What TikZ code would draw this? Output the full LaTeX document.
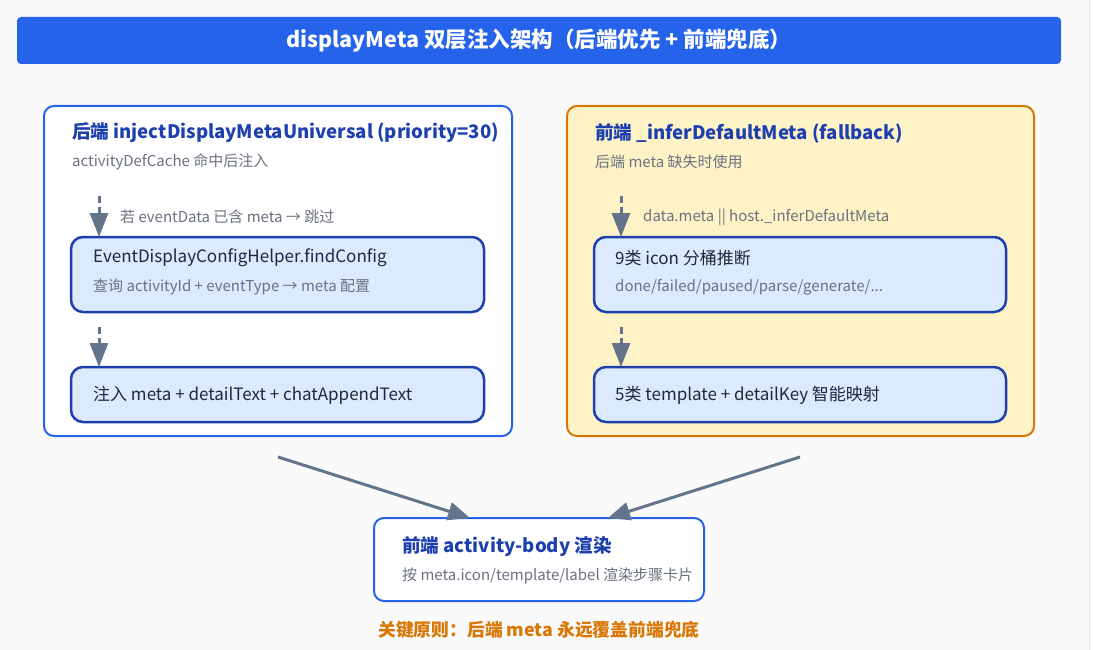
\documentclass[tikz,border=0pt]{standalone}
\usepackage{fontspec}
\setmainfont{Noto Sans CJK SC}
\usetikzlibrary{arrows.meta}
\definecolor{bgc}{HTML}{FAFAFA}
\definecolor{edgec}{HTML}{E5E7EB}
\definecolor{bluec}{HTML}{2563EB}
\definecolor{dblue}{HTML}{1E40AF}
\definecolor{lblue}{HTML}{DBEAFE}
\definecolor{grayt}{HTML}{6B7280}
\definecolor{darkt}{HTML}{1F2937}
\definecolor{arrowc}{HTML}{64748B}
\definecolor{orangec}{HTML}{D97706}
\definecolor{yellowc}{HTML}{FEF3C7}
\tikzset{
  frame/.style={anchor=north west, inner sep=0pt, outer sep=0pt},
  titlebar/.style={frame, fill=bluec, rounded corners=4pt, text=white, font=\bfseries\fontsize{21.5}{25}\selectfont},
  bluepanel/.style={frame, fill=white, draw=bluec, line width=2pt, rounded corners=10pt},
  orangepanel/.style={frame, fill=yellowc, draw=orangec, line width=2pt, rounded corners=10pt},
  stepbox/.style={frame, fill=lblue, draw=dblue, line width=2.5pt, rounded corners=12pt},
  ptitle/.style={anchor=west, inner sep=0pt, text=dblue, font=\bfseries\fontsize{18.6}{22}\selectfont},
  psub/.style={anchor=west, inner sep=0pt, text=grayt, font=\fontsize{15}{18}\selectfont},
  btext/.style={anchor=west, inner sep=0pt, text=darkt, font=\fontsize{17}{20}\selectfont},
  dasharrow/.style={draw=arrowc, line width=3pt, dash pattern=on 7pt off 4pt, -{Triangle[length=24pt,width=18pt]}},
  solidarrow/.style={draw=arrowc, line width=3pt, -{Triangle[length=22pt,width=18pt]}},
  footer/.style={inner sep=0pt, text=orangec, font=\bfseries\fontsize{17.8}{21}\selectfont}
}
\begin{document}
\begin{tikzpicture}[x=1pt,y=-1pt]
\useasboundingbox (0,0) rectangle (1093,650);
\fill[white] (0,0) rectangle (1093,650);
\fill[bgc] (0,0) rectangle (1089,650);
\draw[edgec, line width=1pt] (1089,0) -- (1089,650);

\node[titlebar, minimum width=1044pt, minimum height=47pt] (title) at (17,17) {displayMeta 双层注入架构（后端优先 + 前端兜底）};

% left panel
\node[bluepanel, minimum width=468pt, minimum height=330pt] (lp) at (44,106) {};
\node[ptitle] (lpt) at (72,133) {后端 injectDisplayMetaUniversal (priority=30)};
\node[psub] (lps) at (72,162) {activityDefCache 命中后注入};
\node[stepbox, minimum width=413pt, minimum height=75pt] (b1) at (71,237) {};
\node[btext] (b1t) at (93,258) {EventDisplayConfigHelper.findConfig};
\node[psub] (b1s) at (93,287) {查询 activityId + eventType → meta 配置};
\node[stepbox, minimum width=413pt, minimum height=55pt] (b2) at (71,367) {};
\node[btext] (b2t) at (93,395) {注入 meta + detailText + chatAppendText};
\coordinate (a1) at (99,196);
\coordinate (a2) at (99,327);
\node[psub] (l1) at (120,217) {若 eventData 已含 meta → 跳过};
\draw[dasharrow] (a1) -- (a1 |- b1.north);
\draw[dasharrow] (a2) -- (a2 |- b2.north);

% right panel
\node[orangepanel, minimum width=467pt, minimum height=330pt] (rp) at (567,106) {};
\node[ptitle] (rpt) at (595,133) {前端 \_inferDefaultMeta (fallback)};
\node[psub] (rps) at (595,162) {后端 meta 缺失时使用};
\node[stepbox, minimum width=412pt, minimum height=75pt] (b3) at (594,237) {};
\node[btext] (b3t) at (615,258) {9类 icon 分桶推断};
\node[psub] (b3s) at (615,287) {done/failed/paused/parse/generate/...};
\node[stepbox, minimum width=412pt, minimum height=55pt] (b4) at (594,367) {};
\node[btext] (b4t) at (615,395) {5类 template + detailKey 智能映射};
\coordinate (a3) at (621,196);
\coordinate (a4) at (621,327);
\node[psub] (l3) at (643,217) {data.meta || host.\_inferDefaultMeta};
\draw[dasharrow] (a3) -- (a3 |- b3.north);
\draw[dasharrow] (a4) -- (a4 |- b4.north);

% bottom box
\node[bluepanel, minimum width=330pt, minimum height=83pt] (bb) at (374,518) {};
\node[ptitle] (bbt) at (402,547) {前端 activity-body 渲染};
\node[psub] (bbs) at (402,576) {按 meta.icon/template/label 渲染步骤卡片};
\coordinate (s1) at (278,457);
\coordinate (s2) at (800,457);
\draw[solidarrow] (s1) -- (bb.north west -| 470,0);
\draw[solidarrow] (s2) -- (bb.north west -| 608,0);

\node[footer] (foot) at (539,630) {关键原则：后端 meta 永远覆盖前端兜底};
\end{tikzpicture}
\end{document}
